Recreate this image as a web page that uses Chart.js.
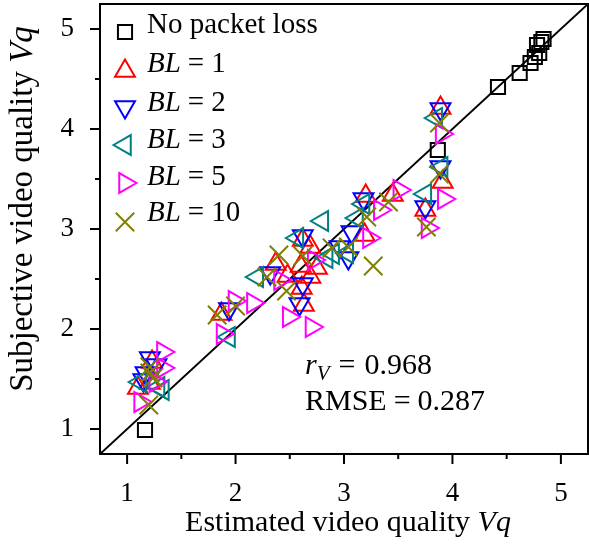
<!DOCTYPE html>
<html><head><meta charset="utf-8">
<script src="https://cdn.jsdelivr.net/npm/chart.js@4.4.0/dist/chart.umd.min.js"></script>
<style>html,body{margin:0;padding:0;background:#fff;}#wrap{width:589px;height:545px;position:relative;}</style>
</head><body><div id="wrap"><canvas id="c" width="589" height="545"></canvas></div>
<script>
// ---- data ----
const seriesNames = ['No packet loss', '1', '2', '3', '5', '10'];
const noLossX = [1.165, 3.865, 4.42, 4.62, 4.72, 4.76, 4.80, 4.78, 4.82, 4.84];
const noLossY = [0.99, 3.79, 4.42, 4.56, 4.66, 4.72, 4.76, 4.84, 4.87, 4.90];
const bl1X = [1.23, 1.10, 1.21, 1.87, 2.37, 2.48, 2.60, 2.62, 2.61, 2.63, 2.69, 2.75, 2.69, 3.19, 3.20, 3.45, 3.75, 3.91, 3.89];
const bl1Y = [1.67, 1.41, 1.46, 2.15, 2.65, 2.53, 2.63, 2.89, 2.41, 2.24, 2.82, 2.61, 2.52, 2.94, 3.33, 3.34, 3.19, 3.47, 4.21];
const bl2X = [1.21, 1.17, 1.15, 1.27, 1.94, 2.32, 2.62, 2.62, 2.59, 2.96, 3.04, 3.07, 3.18, 3.75, 3.89, 3.89];
const bl2Y = [1.71, 1.56, 1.49, 1.64, 2.20, 2.56, 2.93, 2.45, 2.25, 2.82, 2.71, 2.97, 3.30, 3.22, 3.62, 4.20];
const bl3X = [1.12, 1.33, 1.29, 1.94, 2.20, 2.57, 2.80, 2.84, 2.90, 3.03, 3.12, 3.18, 3.75, 3.90, 3.85];
const bl3Y = [1.47, 1.39, 1.42, 1.92, 2.52, 2.91, 3.08, 2.71, 2.75, 2.76, 3.11, 3.25, 3.35, 3.62, 4.11];
const bl5X = [1.33, 1.33, 1.26, 1.12, 1.88, 1.99, 2.16, 2.41, 2.49, 2.70, 2.72, 3.23, 3.33, 3.51, 3.77, 3.92, 3.90];
const bl5Y = [1.77, 1.61, 1.47, 1.27, 1.95, 2.28, 2.26, 2.49, 2.12, 2.02, 2.69, 2.91, 3.19, 3.39, 3.01, 3.30, 3.95];
const bl10X = [1.21, 1.24, 1.21, 1.20, 1.83, 2.00, 2.29, 2.40, 2.47, 2.62, 2.89, 3.04, 3.21, 3.27, 3.41, 3.76, 3.88, 3.88];
const bl10Y = [1.56, 1.51, 1.62, 1.24, 2.14, 2.23, 2.52, 2.74, 2.38, 2.73, 2.81, 2.82, 3.12, 2.63, 3.27, 3.02, 3.55, 4.06];
const tickValues = [1, 2, 3, 4, 5];
const minorTickValues = [1.5, 2.5, 3.5, 4.5];
const axisMin = 0.75, axisMax = 5.25;
const diagonal = [0.75, 5.25];
const xTitle = 'Estimated video quality ';
const yTitle = 'Subjective video quality ';
const axisVar = 'Vq';
const rValue = '0.968';
const rmseValue = '0.287';

// ---- styling ----
const SERIF = '"Liberation Serif", "Times New Roman", serif';
const styles = [
  {color: '#000000', pointStyle: 'rect', rotation: 0, radius: 10},
  {color: '#ff0000', pointStyle: 'triangle', rotation: 0, radius: 11.5},
  {color: '#0000ff', pointStyle: 'triangle', rotation: 180, radius: 11.5},
  {color: '#008080', pointStyle: 'triangle', rotation: 270, radius: 11.5},
  {color: '#ff00ff', pointStyle: 'triangle', rotation: 90, radius: 11.5},
  {color: '#808000', pointStyle: 'crossRot', rotation: 0, radius: 13}
];
const seriesX = [noLossX, bl1X, bl2X, bl3X, bl5X, bl10X];
const seriesY = [noLossY, bl1Y, bl2Y, bl3Y, bl5Y, bl10Y];

const datasets = seriesX.map((xs, i) => ({
  label: seriesNames[i],
  data: xs.map((x, j) => ({x: x, y: seriesY[i][j]})),
  pointStyle: styles[i].pointStyle,
  rotation: styles[i].rotation,
  pointRadius: styles[i].radius,
  pointHoverRadius: styles[i].radius,
  borderColor: styles[i].color,
  backgroundColor: 'rgba(0,0,0,0)',
  pointBorderWidth: 2,
  borderWidth: 2,
  showLine: false,
  order: 6 - i
}));
datasets.push({
  label: 'diag',
  data: diagonal.map(v => ({x: v, y: v})),
  showLine: true, pointRadius: 0, borderColor: '#000', borderWidth: 2,
  backgroundColor: 'rgba(0,0,0,0)', order: 10
});

function drawRich(ctx, parts, x, y, align) {
  let total = 0;
  parts.forEach(p => { ctx.font = p.font; p.w = ctx.measureText(p.t).width; total += p.w + (p.gap || 0); });
  let cx = align === 'center' ? x - total / 2 : x;
  ctx.textAlign = 'left'; ctx.textBaseline = 'alphabetic';
  parts.forEach(p => { ctx.font = p.font; ctx.fillText(p.t, cx, y + (p.dy || 0)); cx += p.w + (p.gap || 0); });
}

function drawMarker(ctx, st, x, y) {
  ctx.save();
  ctx.strokeStyle = st.color; ctx.fillStyle = 'rgba(0,0,0,0)'; ctx.lineWidth = 2;
  if (Chart.helpers && Chart.helpers.drawPoint) {
    Chart.helpers.drawPoint(ctx, {pointStyle: st.pointStyle, rotation: st.rotation, radius: st.radius, borderWidth: 2}, x, y);
  }
  ctx.restore();
}

const deco = {
  id: 'deco',
  afterDraw(chart) {
    const ctx = chart.ctx, a = chart.chartArea, xs = chart.scales.x, ys = chart.scales.y;
    ctx.save();
    ctx.strokeStyle = '#000'; ctx.lineWidth = 2;
    ctx.strokeRect(a.left, a.top, a.right - a.left, a.bottom - a.top);
    ctx.beginPath();
    tickValues.forEach(v => {
      const px = xs.getPixelForValue(v); ctx.moveTo(px, a.bottom); ctx.lineTo(px, a.bottom + 10);
      const py = ys.getPixelForValue(v); ctx.moveTo(a.left, py); ctx.lineTo(a.left - 10, py);
    });
    minorTickValues.forEach(v => {
      const px = xs.getPixelForValue(v); ctx.moveTo(px, a.bottom); ctx.lineTo(px, a.bottom + 5);
      const py = ys.getPixelForValue(v); ctx.moveTo(a.left, py); ctx.lineTo(a.left - 5, py);
    });
    ctx.stroke();
    ctx.fillStyle = '#000';
    const reg = s => s + 'px ' + SERIF, ita = s => 'italic ' + s + 'px ' + SERIF;
    // axis titles
    drawRich(ctx, [{t: xTitle, font: reg(30)}, {t: axisVar, font: ita(30)}], 348, 531, 'center');
    ctx.save();
    ctx.translate(32, 209); ctx.rotate(-Math.PI / 2);
    drawRich(ctx, [{t: yTitle, font: reg(33)}, {t: axisVar, font: ita(33)}], 0, 0, 'center');
    ctx.restore();
    // legend
    const my = [32, 71, 107, 145, 183, 222];
    const by = [33, 72, 111, 148, 185, 221];
    seriesNames.forEach((n, i) => {
      drawMarker(ctx, styles[i], 125, my[i]);
      if (i === 0) drawRich(ctx, [{t: n, font: reg(29)}], 147, by[i], 'left');
      else drawRich(ctx, [{t: 'BL', font: ita(29), gap: 7}, {t: '=', font: reg(29), gap: 7}, {t: n, font: reg(29)}], 147, by[i], 'left');
    });
    // statistics
    drawRich(ctx, [{t: 'r', font: ita(30)}, {t: 'V', font: ita(21), dy: 6, gap: 9}, {t: '=', font: reg(30), gap: 9}, {t: rValue, font: reg(30)}], 305, 374, 'left');
    drawRich(ctx, [{t: 'RMSE', font: reg(30), gap: 7}, {t: '=', font: reg(30), gap: 7}, {t: rmseValue, font: reg(30)}], 305, 410, 'left');
    ctx.restore();
  }
};

new Chart(document.getElementById('c'), {
  type: 'scatter',
  data: {datasets: datasets},
  options: {
    responsive: false, animation: false, devicePixelRatio: 1,
    layout: {autoPadding: false, padding: {left: 0, top: 4, right: 1, bottom: 0}},
    plugins: {legend: {display: false}, tooltip: {enabled: false}},
    scales: {
      x: {
        type: 'linear', min: axisMin, max: axisMax,
        afterFit: s => { s.height = 91; s.paddingLeft = 0; s.paddingRight = 0; },
        afterBuildTicks: s => { s.ticks = tickValues.map(v => ({value: v})); },
        grid: {display: false, drawTicks: false}, border: {display: false},
        ticks: {padding: 24, color: '#000', font: {family: SERIF, size: 27}, maxRotation: 0, autoSkip: false}
      },
      y: {
        type: 'linear', min: axisMin, max: axisMax,
        afterFit: s => { s.width = 100; s.paddingTop = 0; s.paddingBottom = 0; },
        afterBuildTicks: s => { s.ticks = tickValues.map(v => ({value: v})); },
        grid: {display: false, drawTicks: false}, border: {display: false},
        ticks: {padding: 26, color: '#000', font: {family: SERIF, size: 27}, autoSkip: false}
      }
    }
  },
  plugins: [deco]
});
</script></body></html>
